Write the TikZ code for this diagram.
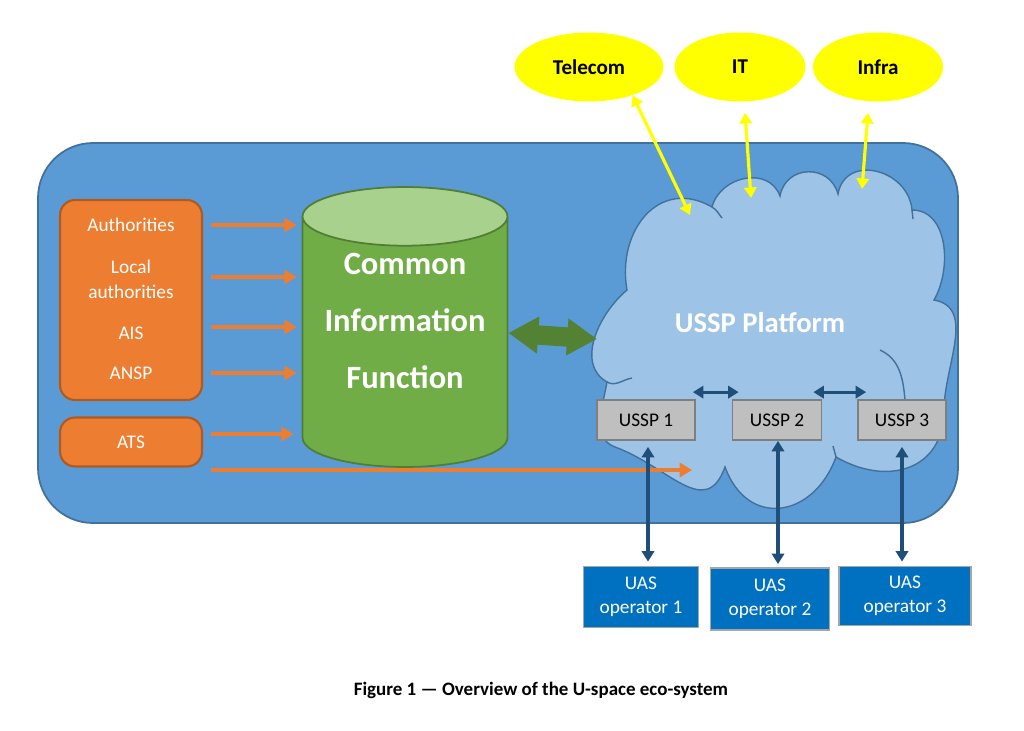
\documentclass[tikz,border=0pt]{standalone}
\usepackage{fontspec}
\setmainfont{Carlito}
\usetikzlibrary{shapes.geometric,arrows.meta,positioning}

\definecolor{panelblue}{HTML}{5B9BD5}
\definecolor{paneledge}{HTML}{41719C}
\definecolor{srcorange}{HTML}{ED7D31}
\definecolor{srcedge}{HTML}{AE5A21}
\definecolor{cifgreen}{HTML}{70AD47}
\definecolor{cifcap}{HTML}{A9D18E}
\definecolor{cifedge}{HTML}{507E32}
\definecolor{busgreen}{HTML}{548235}
\definecolor{cloudblue}{HTML}{9DC3E6}
\definecolor{usspgray}{HTML}{BFBFBF}
\definecolor{usspedge}{HTML}{7F7F7F}
\definecolor{linkblue}{HTML}{1F4E79}
\definecolor{uasblue}{HTML}{0070C0}
\definecolor{uasedge}{HTML}{A6A6A6}
\definecolor{extyellow}{HTML}{FFFF00}

\begin{document}
\begin{tikzpicture}[x=0.02cm,y=0.02cm,
    every node/.style={font=\fontsize{11}{14}\selectfont},
    srcbox/.style={draw=srcedge, fill=srcorange, line width=1.2pt, rounded corners=0.3cm, minimum width=2.84cm},
    srctext/.style={text=white, align=center},
    feed/.style={draw=srcorange, line width=2pt, -{Triangle[length=7pt,width=8pt]}},
    bus/.style={draw=busgreen, line width=11pt, {Triangle[length=17pt,width=20pt]}-{Triangle[length=17pt,width=20pt]}},
    link/.style={draw=linkblue, line width=1.8pt, {Triangle[length=6pt,width=7pt]}-{Triangle[length=6pt,width=7pt]}},
    ext/.style={draw=extyellow, line width=1.8pt, {Triangle[length=6pt,width=7pt]}-{Triangle[length=6pt,width=7pt]}},
    stake/.style={ellipse, fill=extyellow, minimum height=1.38cm, inner sep=0pt, font=\bfseries\fontsize{12}{14}\selectfont},
    ussp/.style={draw=usspedge, fill=usspgray, line width=1pt, minimum height=0.8cm, inner sep=0pt},
    uas/.style={draw=uasedge, fill=uasblue, line width=1pt, text=white, align=center, inner sep=0pt, font=\fontsize{11}{13.7}\selectfont}]
    \useasboundingbox (0,0) rectangle (1024,-730);

    % eco-system panel
    \draw[fill=panelblue, draw=paneledge, line width=1pt, rounded corners=1.1cm] (38,-143) rectangle (958,-523);

    % USSP platform cloud
    \draw[fill=cloudblue, draw=paneledge, line width=0.8pt]
        (607,-382) to[out=150,in=220] (627,-290)
        to[out=100,in=150,looseness=1.3] (712,-207)
        to[out=75,in=110,looseness=1.2] (780,-196)
        to[out=80,in=105,looseness=1.4] (838,-194)
        to[out=80,in=95,looseness=1.4] (912,-210)
        to[out=0,in=60] (934,-300)
        to[out=-10,in=90] (944,-410)
        to[out=-90,in=-30,looseness=1.3] (836,-457)
        to[out=-110,in=-70,looseness=1.5] (725,-467)
        to[out=-110,in=-20,looseness=1.3] (615,-447)
        to[out=160,in=-100] cycle;
    \draw[paneledge, line width=0.8pt] (607,-382) to[out=-30,in=190] (632,-378);
    \draw[paneledge, line width=0.8pt] (712,-207) to[out=-30,in=130] (722,-218);
    \draw[paneledge, line width=0.8pt] (912,-210) -- (913,-219);
    \draw[paneledge, line width=0.8pt] (880,-350) to[out=-25,in=95] (905,-400);
    \draw[paneledge, line width=0.8pt] (836,-457) -- (833,-446);
    \node[text=white, font=\bfseries\fontsize{16.3}{20}\selectfont] (platform) at (760,-323) {USSP Platform};
    \coordinate (cloudw) at (597,-339);
    \coordinate (lane) at (692,-470);
    \coordinate (telin) at (690,-215);
    \coordinate (itin) at (751,-198);
    \coordinate (infrain) at (862,-189);

    % data sources
    \node[srcbox, minimum height=4cm] (grp) at (131,-300) {};
    \node[srctext] (auth) at (131,-225) {Authorities};
    \node[srctext, font=\fontsize{11}{14.2}\selectfont] (local) at (131,-279) {Local\\authorities};
    \node[srctext] (ais) at (131,-333) {AIS};
    \node[srctext] (ansp) at (131,-373) {ANSP};
    \node[srcbox, minimum height=0.98cm, srctext] (ats) at (131,-442) {ATS};

    % common information function
    \node[cylinder, shape border rotate=90, aspect=0.34, minimum width=4.1cm, minimum height=5.6cm,
          draw=cifedge, line width=1pt, cylinder uses custom fill, cylinder body fill=cifgreen,
          cylinder end fill=cifcap, anchor=shape center, text=white, align=center, text depth=30pt,
          font=\bfseries\fontsize{18.5}{32.4}\selectfont] (cif) at (405,-327) {Common\\Information\\Function};

    \draw[feed, shorten <=0.16cm, shorten >=0.1cm] (grp.east |- auth) -- (cif.west |- auth);
    \draw[feed, shorten <=0.16cm, shorten >=0.1cm] ([yshift=0.04cm]grp.east |- local) -- ([yshift=0.04cm]cif.west |- local);
    \draw[feed, shorten <=0.16cm, shorten >=0.1cm] ([yshift=0.12cm]grp.east |- ais) -- ([yshift=0.12cm]cif.west |- ais);
    \draw[feed, shorten <=0.16cm, shorten >=0.1cm] (grp.east |- ansp) -- (cif.west |- ansp);
    \draw[feed, shorten <=0.16cm, shorten >=0.16cm] ([yshift=0.16cm]ats.east) -- ([yshift=0.16cm]cif.west |- ats);
    \draw[feed, shorten <=0.16cm] (ats.east |- lane) -- (lane);
    \draw[bus] (cif.east |- 0,-333) -- (cloudw);

    % USSPs
    \node[ussp, minimum width=1.96cm] (ussp1) at (646,-420) {USSP 1};
    \node[ussp, minimum width=1.78cm] (ussp2) at (777,-420) {USSP 2};
    \node[ussp, minimum width=1.76cm] (ussp3) at (902,-420) {USSP 3};
    \draw[link] ([shift={(-3,7)}]ussp1.north east) -- ([shift={(7,7)}]ussp2.north west);
    \draw[link] ([shift={(-9,7)}]ussp2.north east) -- ([shift={(9,7)}]ussp3.north west);

    % UAS operators
    \node[uas, minimum width=2.3cm, minimum height=1.22cm] (uas1) at (641,-597) {UAS\\operator 1};
    \node[uas, minimum width=2.38cm, minimum height=1.24cm] (uas2) at (770,-599) {UAS\\operator 2};
    \node[uas, minimum width=2.64cm, minimum height=1.18cm] (uas3) at (905,-596) {UAS\\operator 3};
    \draw[link, shorten <=0.12cm, shorten >=0.08cm] ([xshift=0.04cm]ussp1.south) -- ([xshift=0.04cm]ussp1.south |- uas1.north);
    \draw[link, shorten >=0.06cm] ([xshift=0.02cm]ussp2.south) -- ([xshift=0.02cm]ussp2.south |- uas2.north);
    \draw[link, shorten <=0.12cm, shorten >=0.08cm] (ussp3.south) -- (ussp3.south |- uas3.north);

    % external services
    \node[stake, minimum width=2.98cm] (tel) at (589,-67) {Telecom};
    \node[stake, minimum width=2.62cm] (it) at (740,-67) {IT};
    \node[stake, minimum width=2.6cm] (infra) at (878,-67) {Infra};
    \draw[ext] (tel.-33) -- (telin);
    \draw[ext] ([shift={(5,-11)}]it.south) -- (itin);
    \draw[ext] ([shift={(-10,-11)}]infra.south) -- (infrain);

    \node[font=\bfseries\fontsize{10.8}{13}\selectfont] (caption) at (541,-690) {Figure 1 — Overview of the U-space eco-system};
\end{tikzpicture}
\end{document}
